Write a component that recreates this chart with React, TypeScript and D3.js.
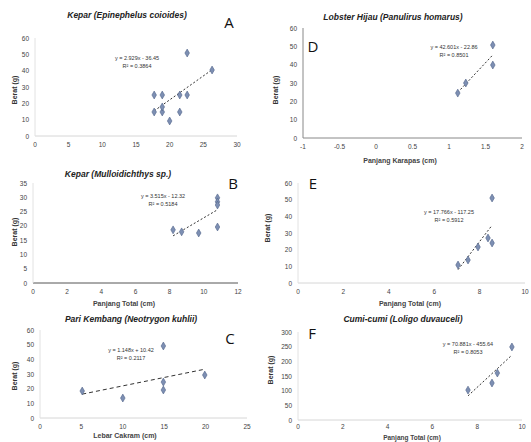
import * as d3 from 'd3';
import { useEffect, useRef } from 'react';

const W = 531;
const H = 442;

// panel A
const aX = [22.6, 26.3, 17.7, 18.9, 21.5, 22.6, 17.7, 18.9, 18.9, 21.5, 20.0];
const aY = [50.8, 40.4, 25.1, 25.1, 25.1, 25.1, 14.7, 14.7, 17.8, 14.7, 9.2];
const aXTicks = [0, 5, 10, 15, 20, 25, 30];
const aYTicks = [0, 10, 20, 30, 40, 50, 60];

// panel B
const bX = [8.2, 8.7, 9.7, 10.8, 10.8, 10.8, 10.8];
const bY = [18.6, 17.9, 17.5, 19.6, 29.8, 28.4, 27.3];
const bXTicks = [0, 2, 4, 6, 8, 10, 12];
const bYTicks = [0, 5, 10, 15, 20, 25, 30, 35];

// panel C
const cX = [5.1, 10.0, 14.9, 14.9, 14.9, 19.9];
const cY = [18.4, 13.6, 24.5, 19.1, 49.1, 29.3];
const cXTicks = [0, 5, 10, 15, 20, 25];
const cYTicks = [0, 10, 20, 30, 40, 50, 60];

// panel D
const dX = [1.12, 1.23, 1.6, 1.6];
const dY = [24.5, 30.0, 50.7, 39.8];
const dXTicks = [-1, -0.5, 0, 0.5, 1, 1.5, 2];
const dYTicks = [0, 10, 20, 30, 40, 50, 60];

// panel E
const eX = [8.55, 8.55, 8.37, 7.93, 7.49, 7.05];
const eY = [51, 24, 27, 21.6, 13.8, 10.8];
const eXTicks = [0, 2, 4, 6, 8, 10];
const eYTicks = [0, 10, 20, 30, 40, 50, 60];

// panel F
const fX = [9.55, 8.66, 7.59, 8.9];
const fY = [249, 126, 102, 160];
const fXTicks = [0, 2, 4, 6, 8, 10];
const fYTicks = [0, 50, 100, 150, 200, 250, 300];

const titles = [
  'Kepar (Epinephelus coioides)',
  'Kepar (Mulloidichthys sp.)',
  'Pari Kembang (Neotrygon kuhlii)',
  'Lobster Hijau (Panulirus homarus)',
  '',
  'Cumi-cumi (Loligo duvauceli)',
];
const xTitles = ['', 'Panjang Total (cm)', 'Lebar Cakram (cm)', 'Panjang Karapas (cm)', 'Panjang Total (cm)', 'Panjang Total (cm)'];
const letters = ['A', 'B', 'C', 'D', 'E', 'F'];

const FONT = "'Liberation Sans', Arial, sans-serif";

export default function App() {
  const ref = useRef<SVGSVGElement>(null);

  useEffect(() => {
    const svg = d3.select(ref.current);
    svg.selectAll('*').remove();

    const panels = [
      { xs: aX, ys: aY, xt: aXTicks, yt: aYTicks, xr: [35, 237], yr: [136, 38], title: [127, 15], letter: [229, 28], xTitle: [0, 0], yTitle: [17, 90], eq: [137, 60], axis: '#d6d6d6', dash: '2,2' },
      { xs: bX, ys: bY, xt: bXTicks, yt: bYTicks, xr: [33, 238], yr: [283, 183], title: [118, 174], letter: [233, 189], xTitle: [124, 306], yTitle: [17, 232], eq: [163, 198], axis: '#555', dash: '2,2' },
      { xs: cX, ys: cY, xt: cXTicks, yt: cYTicks, xr: [40, 247], yr: [418, 330], title: [131, 319], letter: [230, 344], xTitle: [125, 438], yTitle: [17, 376], eq: [131, 352], axis: '#d6d6d6', dash: '4,3' },
      { xs: dX, ys: dY, xt: dXTicks, yt: dYTicks, xr: [303, 522], yr: [138, 28], title: [393, 17], letter: [313, 52], xTitle: [400, 163], yTitle: [278, 90], eq: [454, 49], axis: '#888', dash: '2,2' },
      { xs: eX, ys: eY, xt: eXTicks, yt: eYTicks, xr: [298, 525], yr: [283, 183], title: [0, 0], letter: [313, 189], xTitle: [410, 306], yTitle: [270, 228], eq: [449, 214], axis: '#d6d6d6', dash: '2,2' },
      { xs: fX, ys: fY, xt: fXTicks, yt: fYTicks, xr: [298, 522], yr: [420, 332], title: [403, 319], letter: [312, 339], xTitle: [412, 440], yTitle: [273, 370], eq: [468, 346], axis: '#d6d6d6', dash: '2,2' },
    ];

    panels.forEach((p, i) => {
      const g = svg.append('g');
      const x = d3.scaleLinear().domain(d3.extent(p.xt) as [number, number]).range(p.xr);
      const y = d3.scaleLinear().domain(d3.extent(p.yt) as [number, number]).range(p.yr);

      // axes
      g.append('line').attr('x1', p.xr[0]).attr('x2', p.xr[1]).attr('y1', p.yr[0]).attr('y2', p.yr[0])
        .attr('stroke', p.axis).attr('stroke-width', 1);
      g.append('line').attr('x1', p.xr[0]).attr('x2', p.xr[0]).attr('y1', p.yr[0]).attr('y2', p.yr[1])
        .attr('stroke', i === 3 ? '#888' : '#e2e2e2').attr('stroke-width', 1);

      g.selectAll('.xt').data(p.xt).join('text')
        .attr('x', d => x(d)).attr('y', p.yr[0] + (i === 5 ? 9 : 11))
        .attr('text-anchor', 'middle').attr('font-size', 6.5).attr('fill', '#444')
        .attr('font-family', FONT).text(d => String(d));
      g.selectAll('.yt').data(p.yt).join('text')
        .attr('x', p.xr[0] - 6).attr('y', d => y(d) + 2.5)
        .attr('text-anchor', 'end').attr('font-size', 6.5).attr('fill', '#444')
        .attr('font-family', FONT).text(d => String(d));

      if (titles[i]) {
        g.append('text').attr('x', p.title[0]).attr('y', p.title[1] + 3)
          .attr('text-anchor', 'middle').attr('font-size', 8.5).attr('font-weight', 'bold')
          .attr('font-style', 'italic').attr('fill', '#222').attr('font-family', FONT)
          .text(titles[i]);
      }
      if (xTitles[i]) {
        g.append('text').attr('x', p.xTitle[0]).attr('y', p.xTitle[1])
          .attr('text-anchor', 'middle').attr('font-size', i === 5 ? 6.5 : 7).attr('font-weight', 'bold')
          .attr('fill', '#444').attr('font-family', FONT).text(xTitles[i]);
      }
      g.append('text')
        .attr('transform', `translate(${p.yTitle[0]},${p.yTitle[1]}) rotate(-90)`)
        .attr('text-anchor', 'middle').attr('font-size', 7).attr('font-weight', 'bold')
        .attr('fill', '#333').attr('font-family', FONT).text('Berat (g)');

      g.append('text').attr('x', p.letter[0]).attr('y', p.letter[1])
        .attr('text-anchor', 'middle').attr('font-size', 15).attr('fill', '#111')
        .attr('font-family', "'Open Sans', sans-serif").text(letters[i]);

      // regression
      const pts = p.xs.map((v, k) => [v, p.ys[k]]);
      const mx = d3.mean(p.xs) as number;
      const my = d3.mean(p.ys) as number;
      const sxy = d3.sum(pts, d => (d[0] - mx) * (d[1] - my));
      const sxx = d3.sum(pts, d => (d[0] - mx) ** 2);
      const syy = d3.sum(pts, d => (d[1] - my) ** 2);
      const slope = sxy / sxx;
      const icpt = my - slope * mx;
      const r2 = (sxy * sxy) / (sxx * syy);
      const [x0, x1] = d3.extent(p.xs) as [number, number];

      g.append('line')
        .attr('x1', x(x0)).attr('y1', y(slope * x0 + icpt))
        .attr('x2', x(x1)).attr('y2', y(slope * x1 + icpt))
        .attr('stroke', '#333').attr('stroke-width', 1).attr('stroke-dasharray', p.dash);

      g.selectAll('.pt').data(pts).join('path')
        .attr('transform', d => `translate(${x(d[0])},${y(d[1])})`)
        .attr('d', d3.symbol(d3.symbolDiamond, 18)() as string)
        .attr('fill', '#7d8fb3').attr('stroke', '#52648a').attr('stroke-width', 0.6);

      const sign = icpt < 0 ? '-' : '+';
      g.append('text').attr('x', p.eq[0]).attr('y', p.eq[1])
        .attr('text-anchor', 'middle').attr('font-size', 5.5).attr('fill', '#333')
        .attr('font-family', FONT)
        .text(`y = ${slope.toFixed(3)}x ${sign} ${Math.abs(icpt).toFixed(2)}`);
      g.append('text').attr('x', p.eq[0]).attr('y', p.eq[1] + 8)
        .attr('text-anchor', 'middle').attr('font-size', 5.5).attr('fill', '#333')
        .attr('font-family', FONT).text(`R² = ${r2.toFixed(4)}`);
    });
  }, []);

  return (
    <svg ref={ref} width={W} height={H}
      style={{ position: 'absolute', left: 0, top: 0, background: '#fff' }} />
  );
}
